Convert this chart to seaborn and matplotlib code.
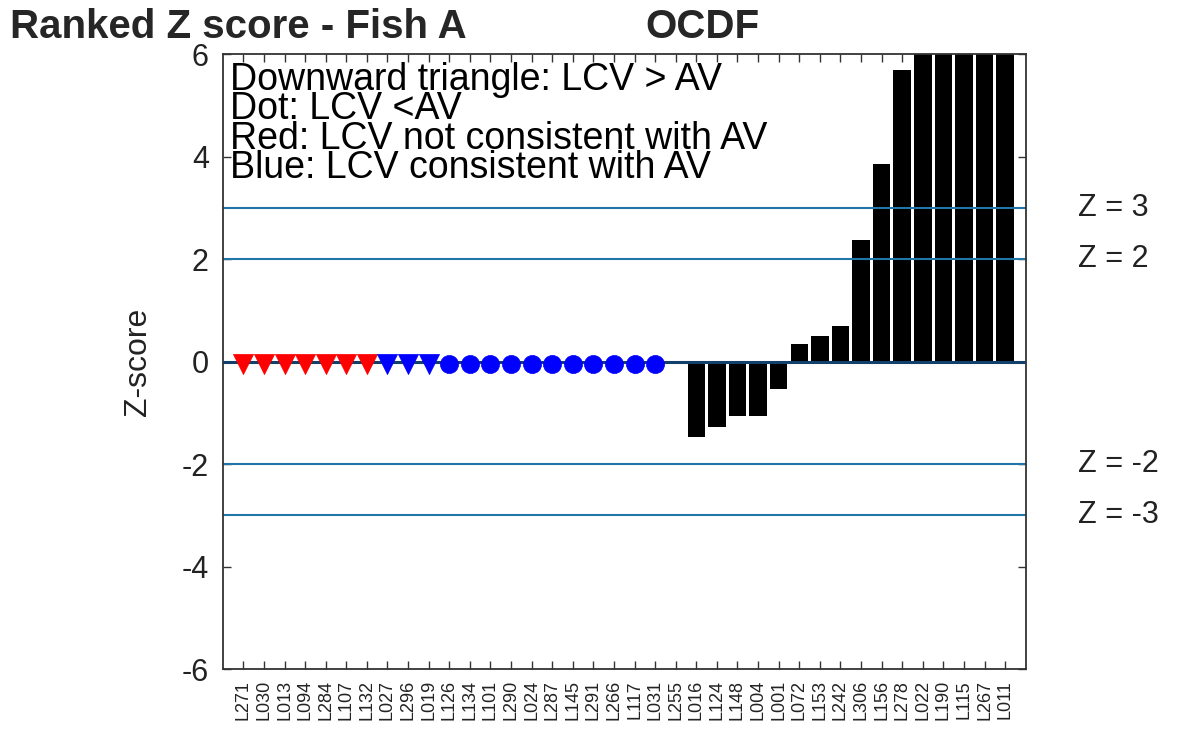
import numpy as np
import matplotlib
matplotlib.use("Agg")
import matplotlib.pyplot as plt
import matplotlib.transforms as mtransforms
import seaborn as sns

# ranked labs, left to right
labs = ["L271", "L030", "L013", "L094", "L284", "L107", "L132", "L027", "L296", "L019",
        "L126", "L134", "L101", "L290", "L024", "L287", "L145", "L291", "L266", "L117",
        "L031", "L255", "L016", "L124", "L148", "L004", "L001", "L072", "L153", "L242",
        "L306", "L156", "L278", "L022", "L190", "L115", "L267", "L011"]

# z-scores (off-scale bars clipped at 6)
zscores = [0.0, 0.0, 0.0, 0.0, 0.0, 0.0, 0.0, 0.0, 0.0, 0.0,
           0.0, 0.0, 0.0, 0.0, 0.0, 0.0, 0.0, 0.0, 0.0, 0.0,
           0.0, 0.0, -1.48, -1.28, -1.06, -1.06, -0.54, 0.34, 0.50, 0.69,
           2.37, 3.85, 5.69, 6.0, 6.0, 6.0, 6.0, 6.0]

# labs drawn as symbols instead of bars
marker_labs = labs[:21]
marker_shape = ["v"] * 10 + ["o"] * 11
marker_colour = ["red"] * 7 + ["blue"] * 14

limit_lines = [3, 2, -2, -3]
limit_text = ["Z = 3", "Z = 2", "Z = -2", "Z = -3"]

notes = ["Downward triangle: LCV > AV",
         "Dot: LCV <AV",
         "Red: LCV not consistent with AV",
         "Blue: LCV consistent with AV"]

sns.set_style("ticks")
plt.rcParams["font.family"] = ["Liberation Sans", "DejaVu Sans"]
plt.rcParams["axes.unicode_minus"] = False

fig = plt.figure(figsize=(11.93, 7.33), dpi=100)
ax = fig.add_axes([0.1867, 0.0873, 0.6731, 0.839])

sns.barplot(x=labs, y=zscores, order=labs, color="black", saturation=1,
            width=0.85, linewidth=0, ax=ax)

# reference lines
for z in limit_lines:
    ax.axhline(z, color="#2275a8", lw=1.5, zorder=1)
ax.axhline(0, color="#12406a", lw=2.2, zorder=3)

# symbols for the labs without a bar
pos = {lab: i for i, lab in enumerate(labs)}
for lab, shp, col in zip(marker_labs, marker_shape, marker_colour):
    size = 210 if shp == "v" else 170
    ax.scatter(pos[lab], -0.04, marker=shp, s=size, color=col,
               edgecolor=col, linewidth=0.5, zorder=4)

ax.set_xlim(-1, 38)
ax.set_ylim(-6, 6)
ax.set_yticks(np.arange(-6, 7, 2))
ax.set_xticks(range(len(labs)))
ax.set_xticklabels(labs, rotation=90, fontsize=13)
ax.tick_params(axis="y", labelsize=22, pad=10)
ax.tick_params(direction="in", length=6, width=1.0, top=True, right=True,
               color="#333333", labelcolor="#222222")
ax.tick_params(axis="x", pad=8)
for s in ax.spines.values():
    s.set_visible(True)
    s.set_color("#333333")
    s.set_linewidth(1.3)

ax.set_xlabel("")
ax.set_ylabel("Z-score", fontsize=23, color="#222222")
ax.yaxis.set_label_coords(-0.087, 0.5)

for i, txt in enumerate(notes):
    ax.text(-0.645, 5.30 - i * 0.575, txt, fontsize=27, va="baseline",
            ha="left", color="black", zorder=5)

trans = mtransforms.blended_transform_factory(ax.transAxes, ax.transData)
for z, txt in zip(limit_lines, limit_text):
    ax.text(1.065, z, txt, transform=trans, fontsize=22, va="center",
            ha="left", color="#222222")

fig.text(10 / 1193, 1 - 38 / 733, "Ranked Z score - Fish A", fontsize=29,
         fontweight="bold", va="baseline", ha="left")
fig.text(645 / 1193, 1 - 38 / 733, "OCDF", fontsize=29, fontweight="bold",
         va="baseline", ha="left")

fig.savefig("out.png", dpi=100, facecolor="white")
